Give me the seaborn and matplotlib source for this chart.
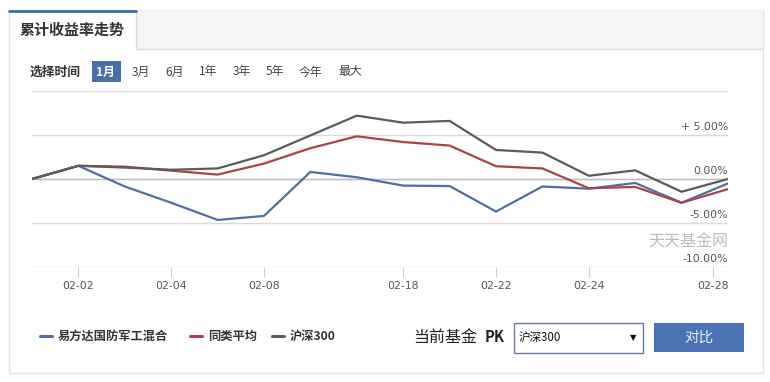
import pandas as pd
import matplotlib
matplotlib.use("Agg")
import matplotlib.pyplot as plt
import seaborn as sns
from matplotlib.patches import Rectangle

# data
dates = ["01-31", "02-02", "02-03", "02-04", "02-07", "02-08", "02-09", "02-10",
         "02-18", "02-19", "02-22", "02-23", "02-24", "02-25", "02-26", "02-28"]
fund = [0, 1.5, -0.85, -2.7, -4.65, -4.2, 0.8, 0.2, -0.75, -0.8, -3.7, -0.85, -1.1, -0.45, -2.7, -0.5]
peer_avg = [0, 1.5, 1.4, 0.95, 0.5, 1.75, 3.5, 4.85, 4.2, 3.8, 1.45, 1.2, -1.05, -0.9, -2.7, -1.15]
hs300 = [0, 1.5, 1.3, 1.05, 1.2, 2.7, 4.95, 7.2, 6.4, 6.6, 3.3, 3.0, 0.37, 0.98, -1.45, 0]
series_names = ["易方达国防军工混合", "同类平均", "沪深300"]
tick_pos = [1, 3, 5, 8, 10, 12, 14.67]
tick_labels = ["02-02", "02-04", "02-08", "02-18", "02-22", "02-24", "02-28"]
y_ticks = [-10, -5, 0, 5, 10]
y_labels = {5: "+ 5.00%", 0: "0.00%", -5: "-5.00%", -10: "-10.00%"}
periods = ["1月", "3月", "6月", "1年", "3年", "5年", "今年", "最大"]

colors = ["#4f6f9f", "#a8434b", "#5b5b5b"]

df = pd.DataFrame({
    "idx": list(range(len(dates))) * 3,
    "value": fund + peer_avg + hs300,
    "series": [s for s in series_names for _ in dates],
})

sns.set_theme(style="white")
plt.rcParams["font.family"] = ["Noto Sans CJK SC", "DejaVu Sans"]

W, H = 770, 382
fig = plt.figure(figsize=(W / 100, H / 100), dpi=100)

# background layer in pixel coordinates for the page furniture
bg = fig.add_axes([0, 0, 1, 1])
bg.set_xlim(0, W)
bg.set_ylim(H, 0)
bg.axis("off")

bg.add_patch(Rectangle((9, 10), 754, 363, fill=False, ec="#e2e2e2", lw=1))
bg.add_patch(Rectangle((136, 10), 627, 39, fc="#f5f5f5", ec="none"))
bg.plot([136, 763], [49, 49], color="#dddddd", lw=1)
bg.plot([136, 136], [10, 49], color="#dddddd", lw=1)
bg.plot([9, 136], [11, 11], color="#3f6ea6", lw=2)
bg.text(20, 30, "累计收益率走势", fontsize=10.8, fontweight="bold", color="#333333", va="center")

bg.text(30, 72, "选择时间", fontsize=9.2, fontweight="bold", color="#333333", va="center")
bg.add_patch(Rectangle((92, 61), 29, 21, fc="#4a6fa5", ec="none"))
period_x = [96, 132, 165, 199, 233, 266, 299, 338]
for px, lab in zip(period_x, periods):
    col = "white" if lab == "1月" else "#444444"
    wt = "bold" if lab == "1月" else "normal"
    bg.text(px, 72, lab, fontsize=8.6, color=col, fontweight=wt, va="center")

# legend
leg_x = [40, 190, 272]
for lx, name, c in zip(leg_x, series_names, colors):
    bg.plot([lx, lx + 12], [336, 336], color=c, lw=2.2)
    bg.text(lx + 18, 336, name, fontsize=8.8, fontweight="bold", color="#333333", va="center")

bg.text(413, 337, "当前基金", fontsize=11.5, color="#222222", va="center")
bg.text(485, 337, "PK", fontsize=10.5, fontweight="bold", color="#222222", va="center")
bg.add_patch(Rectangle((514, 323), 129, 30, fc="white", ec="#667c99", lw=1))
bg.text(519, 338, "沪深300", fontsize=8.3, color="#111111", va="center")
bg.text(633, 338, "▼", fontsize=6, color="#111111", va="center", ha="center", family="DejaVu Sans")
bg.add_patch(Rectangle((654, 323), 90, 29, fc="#4a72b4", ec="none"))
bg.text(699, 337.5, "对比", fontsize=10.5, color="#e8eef8", va="center", ha="center")

# chart
ax = fig.add_axes([32 / W, (H - 267) / H, 696 / W, 176 / H])
ax.patch.set_alpha(0)
sns.lineplot(data=df, x="idx", y="value", hue="series", hue_order=series_names,
             palette=colors, linewidth=1.6, legend=False, ax=ax)
ax.set_xlim(0, len(dates) - 1)
ax.set_ylim(-10, 10)
ax.set_xlabel("")
ax.set_ylabel("")
for sp in ax.spines.values():
    sp.set_visible(False)

ax.set_yticks(y_ticks)
ax.set_yticklabels([])
ax.tick_params(axis="y", length=0)
ax.grid(axis="y", color="#d9d9d9", lw=1)
ax.grid(axis="x", visible=False)
ax.axhline(0, color="#bdbdbd", lw=1, zorder=1)
ax.set_axisbelow(True)

ax.set_xticks(tick_pos)
ax.set_xticklabels(tick_labels, fontsize=7.8, color="#555555", family="DejaVu Sans")
ax.tick_params(axis="x", bottom=True, length=7, width=0.8, color="#cccccc", pad=3)

for v, lab in y_labels.items():
    ax.annotate(lab, xy=(1, v), xycoords=("axes fraction", "data"),
                xytext=(0, 2), textcoords="offset points",
                ha="right", va="bottom", fontsize=7.8, color="#555555", family="DejaVu Sans")

ax.text(1, -7.2, "天天基金网", transform=ax.get_yaxis_transform(), ha="right", va="center",
        fontsize=11.5, color="#bbbbbb")

fig.savefig("out.png", dpi=100)
